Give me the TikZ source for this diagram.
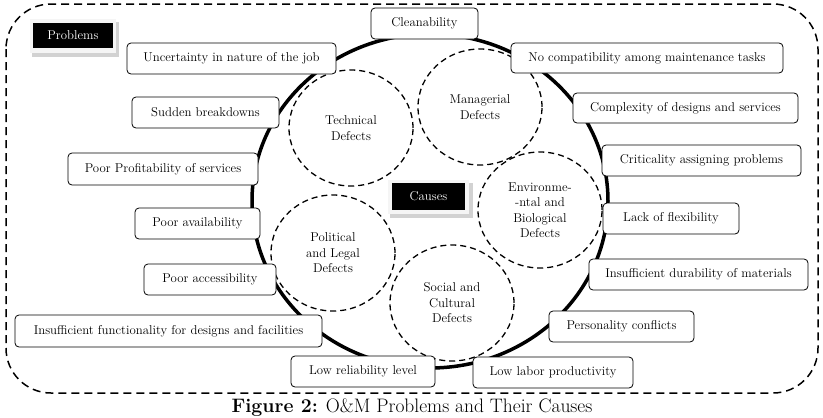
\documentclass[tikz,border=0pt]{standalone}
\usetikzlibrary{shapes.geometric}
\begin{document}
\begin{tikzpicture}[x=1pt,y=-1pt,
  pbox/.style={draw, rounded corners=4pt, fill=white, line width=0.8pt, inner sep=0pt, font=\fontsize{12.8}{14}\selectfont},
  defect/.style={draw, dash pattern=on 6pt off 4pt, line width=1.3pt, ellipse, minimum width=124pt, minimum height=116pt, inner sep=0pt, align=center, font=\fontsize{12.8}{15.5}\selectfont},
  blk/.style={fill=black, text=white, inner sep=0pt, font=\fontsize{12.8}{14}\selectfont}]
\useasboundingbox (0,0) rectangle (823,418);
% outer frame
\draw[dash pattern=on 8pt off 5pt, line width=1.5pt, rounded corners=45pt] (6,4) rectangle (818,393);
% ring
\node[ellipse, draw, line width=3.5pt, minimum width=356pt, minimum height=334pt, inner sep=0pt] (ring) at (430,201) {};
% defect circles
\node[defect] (tech) at (351,128) {Technical\\Defects};
\node[defect] (man) at (480,107) {Managerial\\Defects};
\node[defect] (env) at (540,210) {Environme-\\-ntal and\\Biological\\Defects};
\node[defect] (pol) at (333,253) {Political\\and Legal\\Defects};
\node[defect] (soc) at (452,303) {Social and\\Cultural\\Defects};
% Causes label
\fill[gray!35] (390,183) rectangle (473,218);
\fill[gray!8] (388,180) rectangle (469,214);
\node[blk, minimum width=73pt, minimum height=27pt] (causes) at (428.5,196.5) {Causes};
% Problems label
\fill[gray!35] (32,22) rectangle (119,57);
\fill[gray!8] (30,19) rectangle (116,53);
\node[blk, minimum width=80pt, minimum height=25pt] (problems) at (73,35.5) {Problems};
% problem boxes
\node[pbox, minimum width=107pt, minimum height=31pt] (b1) at (424.5,23.5) {Cleanability};
\node[pbox, minimum width=209pt, minimum height=31pt] (b2) at (231.5,58.5) {Uncertainty in nature of the job};
\node[pbox, minimum width=272pt, minimum height=30pt] (b3) at (647,58) {No compatibility among maintenance tasks};
\node[pbox, minimum width=147pt, minimum height=31pt] (b4) at (205.5,112.5) {Sudden breakdowns};
\node[pbox, minimum width=225pt, minimum height=30pt] (b5) at (685.5,108) {Complexity of designs and services};
\node[pbox, minimum width=190pt, minimum height=32pt] (b6) at (163,169) {Poor Profitability of services};
\node[pbox, minimum width=199pt, minimum height=31pt] (b7) at (701.5,160.5) {Criticality assigning problems};
\node[pbox, minimum width=125pt, minimum height=31pt] (b8) at (197.5,223.5) {Poor availability};
\node[pbox, minimum width=136pt, minimum height=31pt] (b9) at (671,218.5) {Lack of flexibility};
\node[pbox, minimum width=132pt, minimum height=31pt] (b10) at (210,279.5) {Poor accessibility};
\node[pbox, minimum width=219pt, minimum height=31pt] (b11) at (698.5,274.5) {Insufficient durability of materials};
\node[pbox, minimum width=307pt, minimum height=32pt] (b12) at (168.5,331) {Insufficient functionality for designs and facilities};
\node[pbox, minimum width=145pt, minimum height=31pt] (b13) at (621.5,326.5) {Personality conflicts};
\node[pbox, minimum width=144pt, minimum height=31pt] (b14) at (363,371.5) {Low reliability level};
\node[pbox, minimum width=160pt, minimum height=31pt] (b15) at (553,372.5) {Low labor productivity};
% caption
\node[anchor=base, inner sep=0pt, font=\fontsize{19.5}{22}\selectfont] (cap) at (412,412) {\textbf{Figure 2:} O\&M Problems and Their Causes};
\end{tikzpicture}
\end{document}
